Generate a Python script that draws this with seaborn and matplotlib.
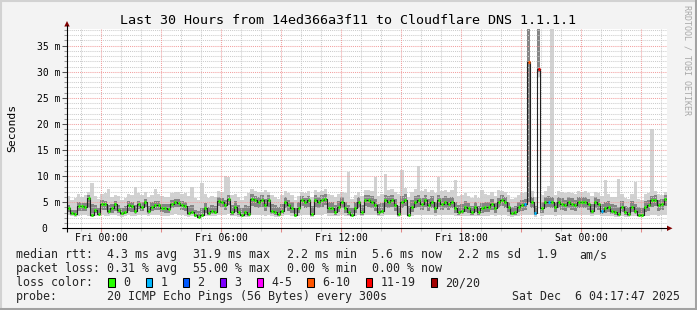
import numpy as np
import pandas as pd
import matplotlib
matplotlib.use("Agg")
import matplotlib.pyplot as plt
import matplotlib.dates as mdates
from matplotlib.patches import Rectangle, Polygon
import seaborn as sns

sns.set_theme(style="white")
plt.rcParams["font.family"] = ["DejaVu Sans Mono", "DejaVu Sans"]

# ---------------- data (10-minute samples, ms) ----------------
median_rtt = [
    3.8, 2.9, 2.7, 4.3, 4.2, 4.0, 5.9, 2.5, 3.6, 2.8,
    4.7, 4.6, 3.4, 3.8, 4.6, 3.6, 3.0, 3.2, 4.4, 4.3,
    3.4, 4.6, 4.1, 5.0, 3.4, 4.1, 4.4, 4.4, 3.8, 3.8,
    3.7, 4.7, 5.0, 4.9, 4.4, 4.3, 3.0, 3.1, 2.6, 2.2,
    2.5, 3.8, 3.0, 3.4, 3.1, 5.3, 5.0, 4.4, 5.7, 3.1,
    4.1, 3.1, 2.5, 3.1, 2.8, 5.7, 5.4, 5.0, 5.4, 4.4,
    5.4, 3.4, 3.1, 2.8, 3.4, 5.0, 4.4, 3.8, 2.5, 3.8,
    5.4, 5.0, 5.4, 2.8, 5.4, 5.0, 5.4, 5.7, 3.8, 3.8,
    3.1, 4.1, 5.0, 3.8, 3.1, 2.5, 3.8, 5.0, 3.1, 5.4,
    5.4, 5.0, 4.4, 3.1, 3.4, 5.4, 5.0, 5.4, 4.4, 2.8,
    5.0, 5.5, 2.5, 4.1, 5.0, 5.4, 4.7, 5.4, 4.4, 5.0,
    3.8, 5.4, 4.7, 5.0, 4.7, 5.0, 3.8, 3.1, 3.4, 4.1,
    3.8, 3.1, 4.1, 3.1, 3.8, 4.1, 4.1, 4.7, 3.8, 5.0,
    5.5, 5.0, 4.1, 2.9, 3.1, 4.1, 4.4, 4.6, 31.9, 5.0,
    2.9, 30.5, 3.8, 5.0, 5.1, 5.0, 4.1, 5.0, 4.7, 4.4,
    5.0, 4.7, 4.4, 5.0, 5.0, 5.0, 4.7, 3.4, 5.0, 4.7,
    3.4, 3.8, 4.1, 3.4, 3.1, 2.8, 4.1, 3.1, 2.8, 4.1,
    3.4, 2.5, 2.5, 4.1, 4.4, 5.4, 5.4, 4.4, 4.7, 5.6,
]
ping_min = [
    2.5, 2.3, 2.2, 2.4, 2.6, 2.5, 2.3, 2.1, 2.4, 2.3,
    2.5, 2.4, 2.3, 2.5, 2.6, 2.4, 2.2, 2.3, 2.5, 2.4,
    2.3, 2.6, 2.5, 2.6, 2.4, 2.5, 2.6, 2.5, 2.4, 2.3,
    2.4, 2.6, 2.7, 2.6, 2.5, 2.4, 2.2, 2.3, 2.1, 2.0,
    2.2, 2.4, 2.3, 2.4, 2.3, 2.6, 2.6, 2.5, 2.7, 2.3,
    2.4, 2.2, 2.1, 2.2, 2.2, 2.6, 2.5, 2.5, 2.6, 2.4,
    2.6, 2.3, 2.2, 2.2, 2.3, 2.6, 2.5, 2.4, 2.1, 2.4,
    2.6, 2.5, 2.6, 2.2, 2.6, 2.5, 2.6, 2.7, 2.4, 2.4,
    2.3, 2.4, 2.6, 2.4, 2.3, 2.1, 2.4, 2.5, 2.3, 2.6,
    2.6, 2.5, 2.5, 2.3, 2.3, 2.6, 2.5, 2.6, 2.5, 2.2,
    2.5, 2.6, 2.1, 2.4, 2.5, 2.6, 2.5, 2.6, 2.5, 2.5,
    2.4, 2.6, 2.5, 2.5, 2.5, 2.5, 2.4, 2.3, 2.3, 2.4,
    2.4, 2.3, 2.4, 2.3, 2.4, 2.4, 2.4, 2.5, 2.4, 2.5,
    2.6, 2.5, 2.4, 2.2, 2.3, 2.4, 2.5, 2.5, 2.6, 2.5,
    2.2, 29.0, 2.4, 2.5, 2.6, 2.5, 2.4, 2.5, 2.5, 2.5,
    2.5, 2.5, 2.5, 2.5, 2.5, 2.5, 2.5, 2.3, 2.5, 2.5,
    2.3, 2.4, 2.4, 2.3, 2.2, 2.2, 2.4, 2.2, 2.1, 2.4,
    2.3, 2.1, 2.1, 2.4, 2.4, 2.6, 2.6, 2.4, 2.5, 2.6,
]
ping_q1 = [
    3.2, 2.6, 2.5, 3.4, 3.3, 3.3, 3.8, 2.4, 3.0, 2.6,
    3.6, 3.5, 2.8, 3.0, 3.4, 2.9, 2.6, 2.7, 3.3, 3.2,
    2.8, 3.7, 3.3, 4.0, 2.8, 3.3, 3.5, 3.6, 3.1, 3.0,
    3.0, 3.8, 4.1, 4.0, 3.6, 3.4, 2.6, 2.7, 2.3, 2.1,
    2.3, 3.0, 2.6, 2.8, 2.7, 4.2, 4.0, 3.5, 4.5, 2.6,
    3.2, 2.6, 2.3, 2.6, 2.4, 4.2, 4.0, 3.8, 4.1, 3.3,
    4.0, 2.8, 2.6, 2.4, 2.8, 3.9, 3.4, 3.0, 2.3, 3.0,
    4.2, 3.9, 4.1, 2.4, 4.0, 3.8, 4.1, 4.4, 3.0, 3.0,
    2.6, 3.2, 3.9, 3.0, 2.6, 2.3, 3.0, 3.9, 2.6, 4.2,
    4.1, 3.8, 3.4, 2.6, 2.8, 4.0, 3.8, 4.1, 3.4, 2.4,
    3.8, 4.2, 2.3, 3.2, 3.8, 4.1, 3.6, 4.1, 3.4, 3.8,
    3.0, 4.1, 3.6, 3.8, 3.6, 3.8, 3.0, 2.6, 2.8, 3.2,
    3.0, 2.6, 3.2, 2.6, 3.0, 3.2, 3.2, 3.6, 3.0, 3.8,
    4.2, 3.8, 3.2, 2.5, 2.6, 3.2, 3.4, 3.6, 5.0, 3.8,
    2.5, 30.0, 3.0, 3.8, 4.0, 3.8, 3.2, 3.8, 3.6, 3.4,
    3.8, 3.6, 3.4, 3.8, 3.8, 3.8, 3.6, 2.8, 3.8, 3.6,
    2.8, 3.0, 3.2, 2.8, 2.6, 2.4, 3.2, 2.6, 2.4, 3.2,
    2.8, 2.3, 2.3, 3.2, 3.4, 4.1, 4.2, 3.4, 3.6, 4.3,
]
ping_q3 = [
    4.4, 3.6, 3.5, 5.0, 4.8, 4.8, 6.3, 4.6, 4.4, 3.8,
    5.4, 5.2, 4.4, 4.7, 5.3, 4.5, 3.9, 4.2, 5.2, 5.0,
    4.5, 5.3, 5.0, 5.6, 4.3, 5.0, 5.2, 5.3, 4.7, 4.6,
    4.6, 5.5, 5.7, 5.6, 5.2, 5.1, 4.2, 4.4, 3.6, 3.3,
    3.9, 4.8, 4.0, 4.5, 4.2, 6.0, 5.8, 5.4, 6.3, 4.4,
    5.2, 4.4, 3.8, 4.5, 4.2, 6.5, 6.2, 6.0, 6.3, 5.6,
    6.3, 4.7, 4.4, 4.0, 4.6, 6.0, 5.5, 5.0, 3.9, 5.0,
    6.2, 5.9, 6.2, 4.3, 6.3, 6.0, 6.3, 6.5, 5.0, 5.0,
    4.4, 5.2, 6.0, 5.0, 4.4, 3.8, 5.0, 6.0, 4.5, 6.3,
    6.4, 6.1, 5.6, 4.6, 4.8, 6.4, 6.1, 6.4, 5.6, 4.2,
    6.2, 6.5, 4.2, 5.4, 6.1, 6.4, 5.8, 6.4, 5.6, 6.1,
    5.0, 6.4, 5.8, 6.1, 5.8, 6.0, 5.0, 4.4, 4.6, 5.2,
    4.8, 4.2, 5.0, 4.2, 4.8, 5.1, 5.0, 5.6, 4.8, 5.9,
    6.4, 6.0, 5.0, 4.0, 4.2, 5.0, 5.4, 5.6, 45.0, 6.0,
    4.2, 45.0, 5.0, 6.0, 6.2, 6.0, 5.0, 6.0, 5.8, 5.4,
    6.0, 5.8, 5.4, 6.0, 6.0, 6.0, 5.7, 4.6, 6.0, 5.7,
    4.6, 5.0, 5.2, 4.6, 4.4, 4.0, 5.2, 4.3, 4.0, 5.2,
    4.6, 4.0, 3.8, 5.2, 5.4, 6.2, 6.3, 5.4, 5.7, 6.3,
]
ping_max = [
    6.2, 5.4, 5.8, 6.5, 6.0, 6.3, 7.0, 8.6, 6.2, 5.6,
    6.6, 6.8, 7.5, 6.0, 6.4, 6.1, 5.5, 5.9, 6.5, 6.3,
    8.0, 6.7, 6.4, 7.0, 6.0, 6.3, 7.5, 6.6, 6.2, 6.0,
    6.0, 6.8, 7.0, 6.9, 6.5, 6.8, 6.2, 8.0, 5.8, 5.5,
    8.7, 6.5, 5.8, 6.2, 6.0, 7.2, 7.0, 10.1, 9.8, 6.3,
    6.5, 6.0, 5.5, 6.2, 6.7, 7.5, 7.2, 7.0, 6.9, 7.3,
    7.0, 6.4, 6.0, 5.6, 6.3, 7.2, 6.8, 6.4, 5.4, 6.2,
    7.0, 6.8, 7.2, 6.0, 7.4, 6.9, 7.1, 7.6, 6.5, 6.4,
    6.0, 6.6, 7.0, 6.8, 10.7, 5.6, 6.4, 7.0, 6.2, 7.3,
    7.4, 7.2, 9.8, 6.2, 6.6, 10.5, 7.3, 7.6, 7.0, 6.5,
    11.1, 7.8, 6.0, 7.0, 7.5, 12.0, 7.2, 7.6, 7.0, 7.3,
    6.8, 9.8, 7.2, 7.4, 7.0, 7.3, 9.2, 6.2, 6.4, 6.7,
    6.2, 5.8, 6.4, 5.8, 7.3, 6.5, 6.4, 6.9, 6.2, 7.3,
    7.2, 7.0, 6.4, 5.6, 5.8, 6.4, 6.8, 7.0, 45.0, 7.2,
    6.0, 45.0, 6.4, 7.2, 8.2, 45.0, 6.4, 7.2, 7.0, 6.8,
    7.0, 6.8, 6.6, 7.2, 7.0, 7.1, 6.8, 6.2, 7.0, 6.8,
    6.2, 9.2, 6.6, 6.0, 6.0, 9.5, 6.6, 5.8, 5.6, 6.5,
    8.9, 5.6, 5.5, 6.5, 6.8, 19.1, 7.2, 6.6, 6.4, 7.0,
]
lost_pings = [
    0, 0, 0, 0, 0, 0, 0, 0, 0, 0,
    0, 0, 0, 0, 0, 0, 0, 0, 0, 0,
    0, 0, 0, 0, 0, 0, 0, 0, 0, 0,
    0, 0, 0, 0, 0, 0, 0, 0, 0, 0,
    0, 0, 0, 0, 0, 0, 0, 0, 0, 0,
    0, 0, 0, 0, 0, 0, 0, 0, 0, 0,
    0, 0, 0, 0, 0, 0, 0, 0, 0, 0,
    0, 0, 0, 0, 0, 0, 0, 0, 0, 0,
    0, 0, 0, 0, 0, 0, 0, 0, 0, 0,
    0, 0, 0, 0, 0, 0, 0, 0, 0, 0,
    0, 0, 0, 0, 0, 0, 0, 0, 0, 0,
    0, 0, 0, 0, 0, 0, 0, 0, 0, 0,
    0, 0, 0, 0, 0, 0, 0, 0, 0, 0,
    0, 0, 0, 0, 0, 0, 0, 1, 8, 0,
    1, 11, 0, 0, 1, 0, 0, 0, 0, 0,
    0, 0, 0, 0, 0, 0, 0, 0, 0, 0,
    1, 0, 0, 0, 0, 0, 0, 0, 0, 0,
    0, 0, 0, 0, 0, 0, 0, 0, 0, 0,
]

loss_labels = ["0", "1", "2", "3", "4-5", "6-10", "11-19", "20/20"]
loss_colors = ["#26ff00", "#00b8ff", "#0059ff", "#7e00ff", "#ff00ff",
               "#ff5500", "#ff0000", "#a10000"]
loss_upper = [0, 1, 2, 3, 5, 10, 19, 20]

y_major = [0, 5, 10, 15, 20, 25, 30, 35]
y_labels = ["0  ", " 5 m", "10 m", "15 m", "20 m", "25 m", "30 m", "35 m"]
x_labels = ["Fri 00:00", "", "Fri 06:00", "", "Fri 12:00", "", "Fri 18:00", "",
            "Sat 00:00", ""]

title = "Last 30 Hours from 14ed366a3f11 to Cloudflare DNS 1.1.1.1"
rtt_stats = ["4.3 ms avg", "31.9 ms max", "2.2 ms min", "5.6 ms now",
             "2.2 ms sd", "1.9", "am/s"]
loss_stats = ["0.31 % avg", "55.00 % max", "0.00 % min", "0.00 % now"]
probe_text = "20 ICMP Echo Pings (56 Bytes) every 300s"
stamp_text = "Sat Dec  6 04:17:47 2025"

# ---------------- figure ----------------
W, H = 697, 310
fig = plt.figure(figsize=(W / 100, H / 100), dpi=100)
fig.patch.set_facecolor("#f3f3f3")

L, R, T, B = 67, 667, 28.5, 228.3
ax = fig.add_axes([L / W, 1 - B / H, (R - L) / W, (B - T) / H])
ax.set_facecolor("white")

start = pd.Timestamp("2025-12-04 22:17:47")
end = pd.Timestamp("2025-12-06 04:17:47")
n = len(median_rtt)
t = list(pd.date_range(start, periods=n, freq="10min")) + [end]
tn = mdates.date2num(t)

def ext(a):
    return np.array(list(a) + [a[-1]], dtype=float)

ax.fill_between(tn, ext(ping_min), ext(ping_max), step="post",
                color="#d2d2d2", linewidth=0, zorder=1)
ax.fill_between(tn, ext(ping_q1), ext(ping_q3), step="post",
                color="#858585", linewidth=0, zorder=1.5)

sns.lineplot(x=tn, y=ext(median_rtt), ax=ax, drawstyle="steps-post",
             color="#202020", linewidth=0.8, estimator=None, errorbar=None,
             sort=False, zorder=3)

def lcolor(l):
    for up, c in zip(loss_upper, loss_colors):
        if l <= up:
            return c
    return loss_colors[-1]

dt = tn[1:] - tn[:-1]
ax.hlines(median_rtt, tn[:-1] + 0.2 * dt, tn[1:] - 0.2 * dt,
          colors=[lcolor(l) for l in lost_pings], linewidth=2.2, zorder=4)

ax.set_xlim(tn[0], tn[-1])
ax.set_ylim(0, 38.3)

xmaj = mdates.date2num(pd.date_range("2025-12-05 00:00", periods=10, freq="3h"))
xmin_all = pd.date_range("2025-12-04 23:00", "2025-12-06 04:00", freq="1h")
xmin = mdates.date2num([d for d in xmin_all if d.hour % 3 != 0])
ymin = [v for v in range(1, 39) if v % 5 != 0]
ax.set_xticks(xmaj)
ax.set_xticklabels(x_labels)
ax.set_xticks(xmin, minor=True)
ax.set_yticks(y_major)
ax.set_yticklabels(y_labels)
ax.set_yticks(ymin, minor=True)
ax.grid(False)

# grid drawn explicitly (dotted, rrdtool style)
dots = (0, (1, 1))
for v in ymin:
    ax.axhline(v, color="#cccccc", linestyle=dots, linewidth=0.75, zorder=2.4)
for v in xmin:
    ax.axvline(v, color="#cccccc", linestyle=dots, linewidth=0.75, zorder=2.4)
for v in y_major[1:]:
    ax.axhline(v, color="#f2a0a0", linestyle=dots, linewidth=0.75, zorder=2.5)
for v in xmaj:
    ax.axvline(v, color="#f2a0a0", linestyle=dots, linewidth=0.75, zorder=2.5)

for s in ax.spines.values():
    s.set_visible(False)

ax.tick_params(axis="x", which="major", length=3, width=0.75, color="#e08888",
               pad=0.6, labelsize=7, labelcolor="black", direction="out", bottom=True)
ax.tick_params(axis="x", which="minor", length=2, width=0.75, color="#c8c8c8",
               direction="out", bottom=True)
ax.tick_params(axis="y", which="major", length=3.5, width=0.75, color="#555555",
               pad=1.5, labelsize=7, labelcolor="black", direction="out", left=True)
ax.tick_params(axis="y", which="minor", length=2, width=0.75, color="#999999",
               direction="out", left=True)
ax.set_xlabel("")
ax.set_ylabel("")

# ---------------- overlay in pixel coordinates ----------------
ov = fig.add_axes([0, 0, 1, 1], zorder=10)
ov.set_xlim(0, W)
ov.set_ylim(H, 0)
ov.axis("off")
ov.patch.set_visible(False)

# axes lines + arrows
ov.plot([62, 667], [B, B], color="black", lw=0.8, solid_capstyle="butt")
ov.plot([L, L], [232, 25], color="black", lw=0.8, solid_capstyle="butt")
ov.add_patch(Polygon([(64.3, 26.5), (69.7, 26.5), (67, 21.0)], closed=True,
                     color="#800000", lw=0))
ov.add_patch(Polygon([(667, 225.6), (667, 231.0), (672.5, B)], closed=True,
                     color="#800000", lw=0))

# border
ov.plot([0, W], [0.8, 0.8], color="#d2d2d2", lw=1.5)
ov.plot([0.8, 0.8], [0, H], color="#d2d2d2", lw=1.5)
ov.plot([0, W], [308.6, 308.6], color="#a2a2a2", lw=2.2)
ov.plot([695.6, 695.6], [0, H], color="#a2a2a2", lw=2.2)

ov.text(347.5, 24, title, ha="center", va="baseline", fontsize=9.6, color="black")
ov.text(12, 128, "Seconds", rotation=90, ha="center", va="center",
        fontsize=8.2, color="black")
ov.text(687, 60, "RRDTOOL / TOBI OETIKER", rotation=270, ha="center",
        va="center", fontsize=6, color="#a8a8a8")

fs = 8.4
rows = [258.3, 272.3, 286.3, 300.3]
ov.text(16, rows[0], "median rtt:", fontsize=fs, va="baseline")
for xp, s in zip([107, 193, 287, 372, 458, 537, 579], rtt_stats):
    ov.text(xp, rows[0], s, fontsize=fs, va="baseline")
ov.text(16, rows[1], "packet loss:", fontsize=fs, va="baseline")
for xp, s in zip([107, 193, 287, 372], loss_stats):
    ov.text(xp, rows[1], s, fontsize=fs, va="baseline")
ov.text(16, rows[2], "loss color:", fontsize=fs, va="baseline")
for xp, lab, c in zip([108.3, 145.7, 182.7, 219.7, 256.7, 307.3, 365.7, 430.7],
                      loss_labels, loss_colors):
    ov.add_patch(Rectangle((xp, 278), 6.7, 8.7, facecolor=c,
                           edgecolor="black", lw=0.75))
    ov.text(xp + 14.7, rows[2], lab, fontsize=fs, va="baseline")
ov.text(16, rows[3], "probe:", fontsize=fs, va="baseline")
ov.text(107, rows[3], probe_text, fontsize=fs, va="baseline")
ov.text(680, rows[3], stamp_text, fontsize=fs, va="baseline", ha="right")

fig.savefig("out.png", dpi=100, facecolor=fig.get_facecolor())
